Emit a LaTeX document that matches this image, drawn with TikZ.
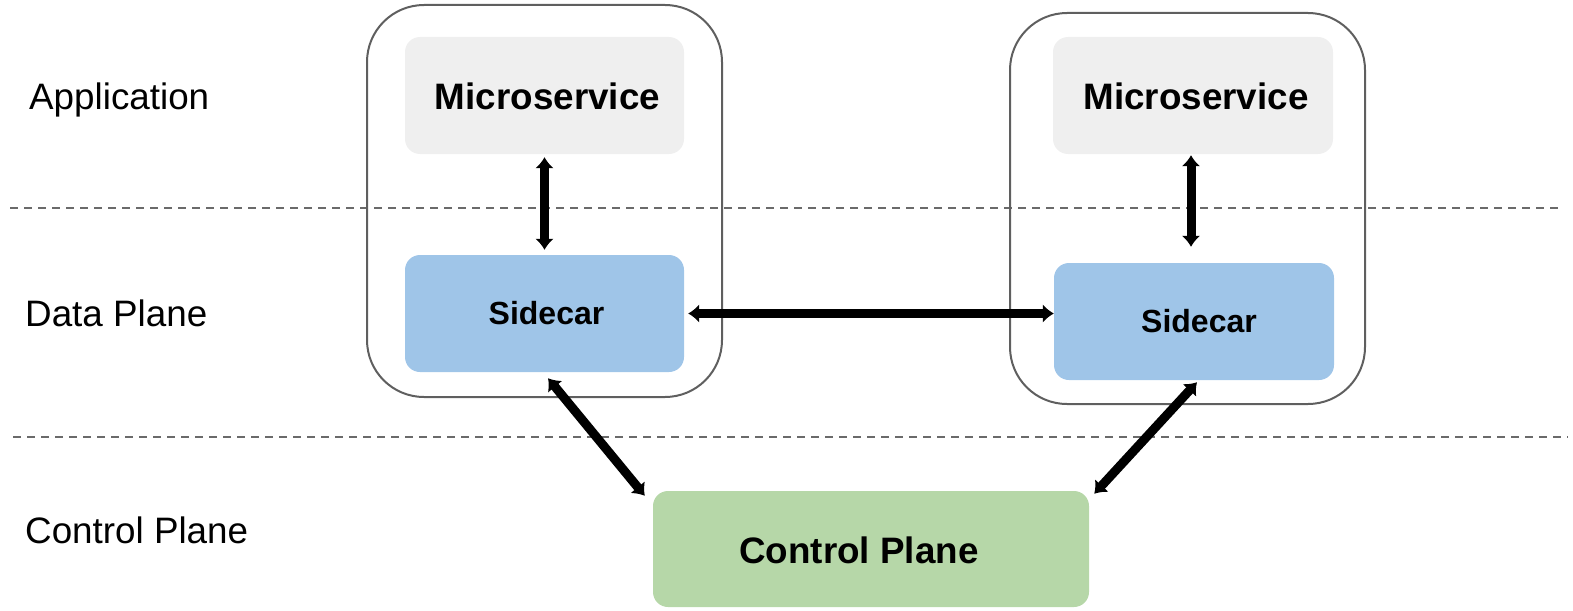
\documentclass[tikz,border=0pt]{standalone}
\usepackage{fontspec}
\setmainfont{Liberation Sans}
\usetikzlibrary{arrows.meta}
\definecolor{msfill}{HTML}{EFEFEF}
\definecolor{scfill}{HTML}{9FC5E8}
\definecolor{cpfill}{HTML}{B6D7A8}
\definecolor{podline}{HTML}{5F5F5F}
\definecolor{sepline}{HTML}{6A6A6A}
\tikzset{
  pod/.style={draw=podline, line width=2pt, rounded corners=57pt},
  card/.style={rounded corners=15pt, inner sep=0pt},
  cardtext/.style={inner sep=0pt, font=\fontsize{36.8}{44}\selectfont\bfseries},
  sidetext/.style={inner sep=0pt, font=\fontsize{32}{38}\selectfont\bfseries},
  layerlabel/.style={inner sep=0pt, anchor=base west, font=\fontsize{36.8}{44}\selectfont},
  separator/.style={draw=sepline, line width=1.8pt, dash pattern=on 8pt off 6pt},
  link/.style={line width=9pt, {Latex[length=11pt,width=19pt]}-{Latex[length=11pt,width=19pt]}},
}
\begin{document}
\begin{tikzpicture}[x=1pt, y=-1pt]
\useasboundingbox (0,0) rectangle (1573,610);

% layer separators
\draw[separator] (10,208) -- (1562,208);
\draw[separator] (13,437) -- (1568,437);

% pods
\node[pod, minimum width=355pt, minimum height=392pt] (pod1) at (544.5,201) {};
\node[pod, minimum width=355pt, minimum height=391pt] (pod2) at (1187.5,208.5) {};

% application containers
\node[card, fill=msfill, minimum width=279pt, minimum height=117pt] (ms1) at (544.5,95.5) {};
\node[card, fill=msfill, minimum width=280pt, minimum height=117pt] (ms2) at (1193,95.5) {};
\node[cardtext] (ms1t) at ([xshift=3pt,yshift=-1pt]ms1.center) {Microservice};
\node[cardtext] (ms2t) at ([xshift=3pt,yshift=-1pt]ms2.center) {Microservice};

% sidecar proxies
\node[card, fill=scfill, minimum width=279pt, minimum height=117pt] (sc1) at (544.5,313.5) {};
\node[card, fill=scfill, minimum width=280pt, minimum height=117pt] (sc2) at (1194,321.5) {};
\node[sidetext] (sc1t) at ([xshift=2pt]sc1.center) {Sidecar};
\node[sidetext] (sc2t) at ([xshift=5pt]sc2.center) {Sidecar};

% control plane
\node[card, fill=cpfill, minimum width=436pt, minimum height=116pt] (cp) at (871,549) {};
\node[cardtext] (cpt) at ([xshift=-12pt,yshift=-1pt]cp.center) {Control Plane};

% layer labels
\node[layerlabel] (lapp) at (29,109) {Application};
\node[layerlabel] (ldata) at (25,326) {Data Plane};
\node[layerlabel] (lctrl) at (25,543) {Control Plane};

% connections
\draw[link] ([yshift=-3pt]ms1.south) -- ([yshift=5pt]sc1.north);
\draw[link] ([xshift=-2pt,yshift=-1pt]ms2.south) -- ([xshift=-3pt,yshift=16pt]sc2.north);
\draw[link] ([xshift=4pt]sc1.east) -- (sc1.east -| sc2.west);
\draw[link] ([xshift=3.5pt,yshift=-6pt]sc1.south) -- ([xshift=-8pt,yshift=-5pt]cp.north west);
\draw[link] ([xshift=3pt,yshift=-2pt]sc2.south) -- ([xshift=5pt,yshift=-3pt]cp.north east);
\end{tikzpicture}
\end{document}
